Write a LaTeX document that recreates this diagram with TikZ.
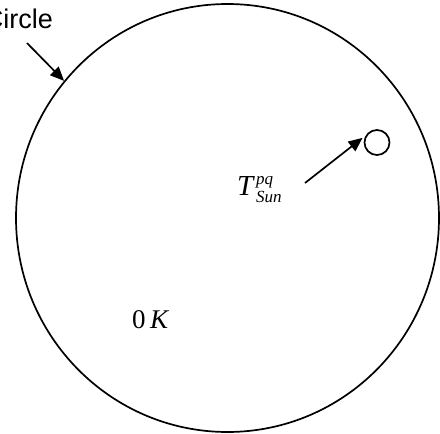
\documentclass[tikz,border=0pt]{standalone}
\usepackage{fontspec}
\setmainfont{Liberation Serif}
\setsansfont{Liberation Sans}
\usetikzlibrary{shapes.geometric, arrows.meta}

\begin{document}
\begin{tikzpicture}[x=1pt, y=-1pt,
    bigcircle/.style={ellipse, draw, line width=1.7pt, inner sep=0pt, minimum width=423pt, minimum height=428pt},
    smallcircle/.style={circle, draw, line width=1.7pt, inner sep=0pt, minimum size=25pt},
    pointer/.style={-{Triangle[length=14pt, width=12pt]}, line width=1.7pt},
    txt/.style={font=\fontsize{29}{34}\selectfont, inner sep=0pt}
]
    \useasboundingbox (0,0) rectangle (440,434);

    % Circles
    \node[bigcircle] (bigc) at (227.5,218) {};
    \node[smallcircle] (sun) at (377,142.5) {};

    % Labels
    \node[txt, font=\sffamily\fontsize{27}{32}\selectfont, anchor=base east] (circ_label) at (53,28) {Circle};
    \node[txt, anchor=base west] (t_label) at (237,195)
        {\textit{T}\kern1pt\raisebox{-7pt}{\fontsize{17}{20}\selectfont\itshape\shortstack[l]{pq\\Sun}}};
    \node[txt, font=\fontsize{27}{32}\selectfont, anchor=base west] (zero_label) at (132,328) {0\,\textit{K}};

    % Arrows
    \coordinate (c_start) at (27,43);
    \coordinate (t_start) at (305,183);
    \draw[pointer] (c_start) -- (bigc.140);
    \draw[pointer, shorten >=4pt] (t_start) -- (sun.148);
\end{tikzpicture}
\end{document}
